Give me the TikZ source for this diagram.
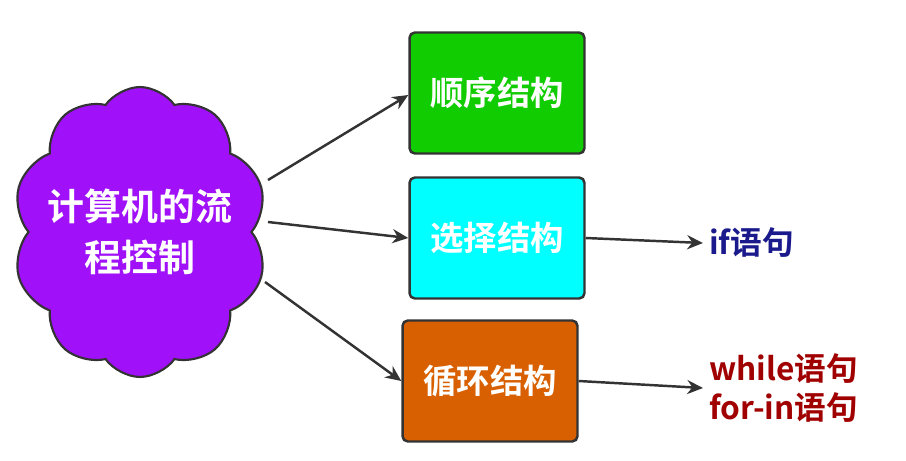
\documentclass[tikz,border=0pt]{standalone}
\usepackage{fontspec}
\setmainfont{Noto Sans CJK SC}[BoldFont={* Bold}]
\usetikzlibrary{shapes.symbols,arrows.meta}
\definecolor{cpurple}{HTML}{A010F8}
\definecolor{cgreen}{HTML}{11CC00}
\definecolor{ccyan}{HTML}{00FFFF}
\definecolor{corange}{HTML}{D96000}
\definecolor{cblue}{HTML}{1A1A8C}
\definecolor{cred}{HTML}{A00000}
\definecolor{cedge}{HTML}{333333}
\tikzset{
  boxstyle/.style={draw=cedge, line width=1.4pt, rounded corners=3pt, minimum width=3.5cm, minimum height=2.42cm, text=white, font=\bfseries\fontsize{19}{22}\selectfont},
  arr/.style={draw=cedge, line width=1.4pt, -{Stealth[length=9pt,width=8pt]}},
  lbl/.style={font=\bfseries\fontsize{18}{22}\selectfont, align=left, anchor=west}
}
\begin{document}
\begin{tikzpicture}[x=0.02cm,y=-0.02cm]
\useasboundingbox (0,0) rectangle (906,460);
\node[cloud, cloud puffs=10, cloud puff arc=110, aspect=0.85, draw=cedge, line width=1.2pt, fill=cpurple, minimum width=5.1cm, minimum height=5.8cm] (c) at (140,232) {};
\node[text=white, align=center, font=\bfseries\fontsize{21}{29}\selectfont] (ct) at (c.center) {计算机的流\\程控制};
\node[boxstyle, fill=cgreen] (b1) at (497,93) {顺序结构};
\node[boxstyle, fill=ccyan] (b2) at (497,238) {选择结构};
\node[boxstyle, fill=corange] (b3) at (490,381) {循环结构};
\node[lbl, text=cblue] (t1) at (703,243) {if语句};
\node[lbl, text=cred] (t2) at (703,388) {while语句\\for-in语句};
\coordinate (c1) at (268,180);
\coordinate (c2) at (268,222);
\coordinate (c3) at (265,282);
\draw[arr] (c1) -- (b1.west |- 0,95);
\draw[arr] (c2) -- (b2.west);
\draw[arr] (c3) -- (b3.west);
\draw[arr] (b2.east) -- (t1.west);
\draw[arr] (b3.east) -- (t2.west);
\end{tikzpicture}
\end{document}
